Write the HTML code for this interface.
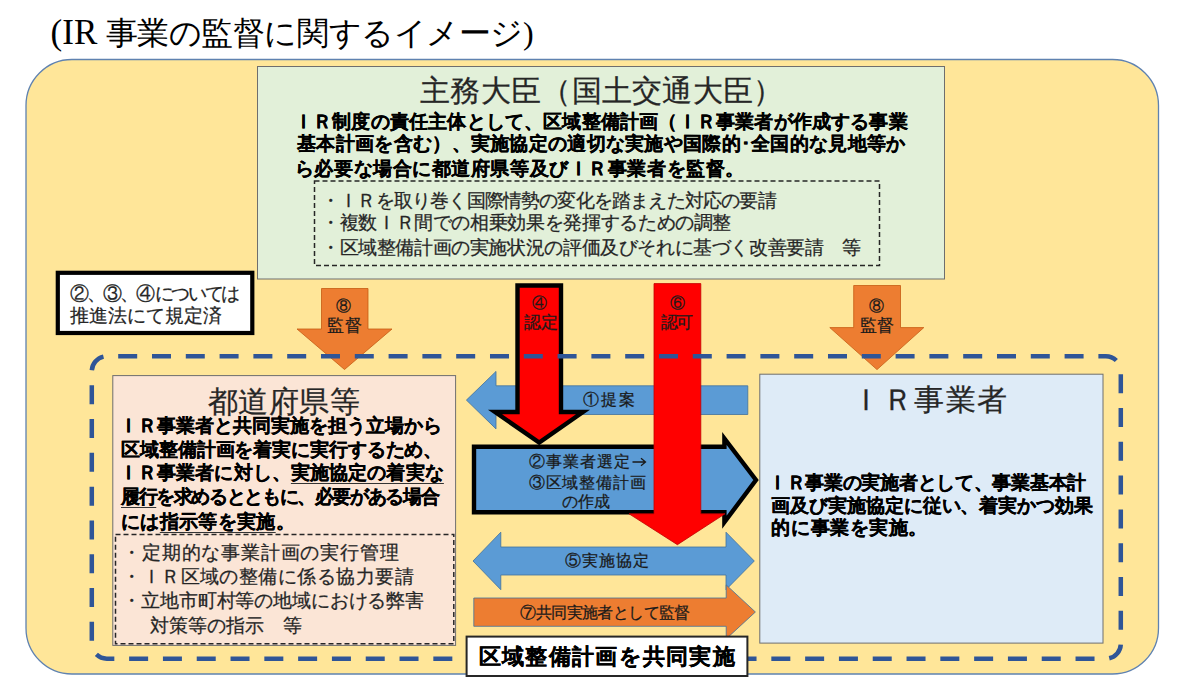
<!DOCTYPE html>
<html lang="ja">
<head>
<meta charset="utf-8">
<style>
html,body{margin:0;padding:0;background:#fff;}
body{width:1184px;height:694px;position:relative;overflow:hidden;font-family:"Liberation Sans",sans-serif;}
svg{position:absolute;left:0;top:0;}
.t svg{position:static;}
.t{position:absolute;white-space:nowrap;line-height:1;-webkit-text-stroke:0.25px currentColor;}
.u{text-decoration:underline;text-decoration-thickness:1px;text-underline-offset:4px;text-decoration-color:#333;}
</style>
</head>
<body>
<svg width="1184" height="694" viewBox="0 0 1184 694">
  <rect x="26" y="59.5" width="1132.5" height="614.5" rx="46" ry="46" fill="#FFE699" stroke="#5F82B0" stroke-width="1.3"/>
  <rect x="257.5" y="66.5" width="687" height="212.5" fill="#E2F0D9" stroke="#6E6E6E" stroke-width="1"/>
  <rect x="314.5" y="181" width="565" height="84.5" fill="none" stroke="#262626" stroke-width="1.5" stroke-dasharray="5 3"/>
  <rect x="57.8" y="272.8" width="194.5" height="60.2" fill="#fff" stroke="#000" stroke-width="4.2"/>
  <polygon points="321.5,288.5 368,288.5 368,329 392,329 344.5,369.5 297,329 321.5,329" fill="#ED7D31" stroke="#C55A11" stroke-width="0.8"/>
  <polygon points="853.7,285.5 900.5,285.5 900.5,327.6 923.8,327.6 877,369.6 829.8,327.6 853.7,327.6" fill="#ED7D31" stroke="#C55A11" stroke-width="0.8"/>
  <polygon points="747.8,385.8 747.8,414.5 496,414.5 496,428.9 466.4,400.1 496,371.4 496,385.8" fill="#5B9BD5" stroke="#41719C" stroke-width="0.8"/>
  <polygon points="474,446.7 724.4,446.7 724.4,438.5 756,480 724.4,522.2 724.4,512.2 474,512.2" fill="#5B9BD5" stroke="#000" stroke-width="4.4"/>
  <polygon points="517.5,285.5 561,285.5 561,412 583,412 539.2,442.6 495,412 517.5,412" fill="#FF0000" stroke="#000" stroke-width="4.4"/>
  <polygon points="654,283.6 700.8,283.6 700.8,513.8 725,513.8 677.4,544.7 629,513.8 654,513.8" fill="#FF0000" stroke="#C00000" stroke-width="0.8"/>
  <path d="M91.8,371.2 A15,15 0 0 1 106.8,356.2 L1105.8,356.2 A15,15 0 0 1 1120.8,371.2 L1120.8,643.7 A15,15 0 0 1 1105.8,658.7 L106.8,658.7 A15,15 0 0 1 91.8,643.7 Z" fill="none" stroke="#2F5597" stroke-width="4.5" stroke-dasharray="19 14.8" stroke-dashoffset="-1"/>
  <rect x="112.8" y="375.6" width="342.8" height="269.8" fill="#FBE5D6" stroke="#6E6E6E" stroke-width="1"/>
  <rect x="115.5" y="534.4" width="338.3" height="109.4" fill="none" stroke="#262626" stroke-width="1.5" stroke-dasharray="5 3"/>
  <rect x="759.8" y="374.2" width="343.2" height="268.9" fill="#DEEBF7" stroke="#6E6E6E" stroke-width="1"/>
  <polygon points="473,561 500.8,532.2 500.8,547 726,547 726,532.2 754.3,561 726,589.7 726,575 500.8,575 500.8,589.7" fill="#5B9BD5" stroke="#41719C" stroke-width="0.8"/>
  <polygon points="473.8,598 726.2,598 726.2,584.9 755.4,612 726.2,638.9 726.2,626.3 473.8,626.3" fill="#ED7D31" stroke="#41719C" stroke-width="0.8"/>
  <rect x="466.6" y="636.6" width="280.8" height="39.4" fill="#fff" stroke="#262626" stroke-width="2"/>
</svg>

<div class="t" id="title1" style="left:50.6px;top:14.6px;font-size:35px;letter-spacing:0.00px;color:#000;font-family:'Liberation Serif',serif;-webkit-text-stroke:0;">(IR</div>
<div class="t" id="title2" style="left:105.6px;top:17.2px;font-size:32px;letter-spacing:-0.43px;color:#000;font-family:'Liberation Serif',serif;-webkit-text-stroke:0;">事業の監督に関するイメージ)</div>
<div class="t" id="gt" style="left:420.0px;top:75.9px;font-size:29.5px;letter-spacing:0.31px;color:#262626;">主務大臣（国土交通大臣）</div>
<div class="t" id="g1" style="left:293.8px;top:111.7px;font-size:19px;letter-spacing:0.19px;color:#000;font-weight:bold;">ＩＲ制度の責任主体として、区域整備計画（ＩＲ事業者が作成する事業</div>
<div class="t" id="g2" style="left:297.2px;top:134.2px;font-size:19px;letter-spacing:0.29px;color:#000;font-weight:bold;">基本計画を含む）、実施協定の適切な実施や国際的･全国的な見地等か</div>
<div class="t" id="g3" style="left:294.8px;top:158.7px;font-size:19px;letter-spacing:0.57px;color:#000;font-weight:bold;">ら必要な場合に都道府県等及びＩＲ事業者を監督。</div>
<div class="t" id="r1" style="left:321.0px;top:192.3px;font-size:18.5px;letter-spacing:-0.81px;color:#262626;">・ＩＲを取り巻く国際情勢の変化を踏まえた対応の要請</div>
<div class="t" id="r2" style="left:321.0px;top:214.0px;font-size:18.5px;letter-spacing:-0.36px;color:#262626;">・複数ＩＲ間での相乗効果を発揮するための調整</div>
<div class="t" id="r3" style="left:321.0px;top:238.6px;font-size:18.5px;letter-spacing:-0.39px;color:#262626;">・区域整備計画の実施状況の評価及びそれに基づく改善要請　等</div>
<div class="t" id="n1" style="left:70.0px;top:284.6px;font-size:18.5px;letter-spacing:-2.42px;color:#262626;">②、③、④<span style="margin-left:2px">については</span></div>
<div class="t" id="n2" style="left:70.0px;top:306.8px;font-size:18.5px;letter-spacing:0.07px;color:#262626;">推進法にて規定済</div>
<div class="t" id="o1a" style="left:336.0px;top:297.6px;font-size:15px;letter-spacing:0.00px;color:#1a1a1a;">⑧</div>
<div class="t" id="o1b" style="left:327.0px;top:316.5px;font-size:17px;letter-spacing:0.50px;color:#1a1a1a;">監督</div>
<div class="t" id="o2a" style="left:869.0px;top:297.6px;font-size:15px;letter-spacing:0.00px;color:#1a1a1a;">⑧</div>
<div class="t" id="o2b" style="left:860.0px;top:316.5px;font-size:17px;letter-spacing:0.10px;color:#1a1a1a;">監督</div>
<div class="t" id="r4a" style="left:532.2px;top:295.2px;font-size:15px;letter-spacing:0.00px;color:#1a1a1a;">④</div>
<div class="t" id="r4b" style="left:524.0px;top:313.5px;font-size:17px;letter-spacing:-0.10px;color:#1a1a1a;">認定</div>
<div class="t" id="r6a" style="left:669.6px;top:295.2px;font-size:15px;letter-spacing:0.00px;color:#1a1a1a;">⑥</div>
<div class="t" id="r6b" style="left:661.0px;top:313.5px;font-size:17px;letter-spacing:-2.10px;color:#1a1a1a;">認可</div>
<div class="t" id="a1" style="left:582.6px;top:392.1px;font-size:16px;letter-spacing:2.00px;color:#1a1a1a;">①提案</div>
<div class="t" id="a2" style="left:528.6px;top:453.6px;font-size:16px;letter-spacing:1.08px;color:#1a1a1a;">②事業者選定<svg width="15" height="10" viewBox="0 0 15 10" style="vertical-align:0px;margin-left:1px"><path d="M0.5,5 H13 M9,1.2 L13.5,5 L9,8.8" fill="none" stroke="#1a1a1a" stroke-width="1.3"/></svg></div>
<div class="t" id="a3" style="left:528.6px;top:474.9px;font-size:16px;letter-spacing:0.92px;color:#1a1a1a;">③区域整備計画</div>
<div class="t" id="a4" style="left:562.4px;top:494.3px;font-size:16px;letter-spacing:-0.00px;color:#1a1a1a;">の作成</div>
<div class="t" id="a5" style="left:564.6px;top:553.3px;font-size:16px;letter-spacing:1.00px;color:#1a1a1a;">⑤実施協定</div>
<div class="t" id="a7" style="left:520.4px;top:605.3px;font-size:16px;letter-spacing:-0.60px;color:#1a1a1a;">⑦共同実施者として監督</div>
<div class="t" id="jb" style="left:478.8px;top:645.6px;font-size:22px;letter-spacing:1.30px;color:#000;font-weight:bold;">区域整備計画を共同実施</div>
<div class="t" id="pt" style="left:208.0px;top:386.8px;font-size:29.5px;letter-spacing:0.40px;color:#262626;">都道府県等</div>
<div class="t" id="p1" style="left:118.8px;top:415.5px;font-size:19px;letter-spacing:0.03px;color:#000;font-weight:bold;">ＩＲ事業者と共同実施を担う立場から</div>
<div class="t" id="p2" style="left:121.2px;top:439.7px;font-size:19px;letter-spacing:-0.12px;color:#000;font-weight:bold;">区域整備計画を着実に実行するため、</div>
<div class="t" id="p3" style="left:118.8px;top:462.5px;font-size:19px;letter-spacing:0.12px;color:#000;font-weight:bold;">ＩＲ事業者に対し、<span class="u">実施協定の着実な</span></div>
<div class="t" id="p4" style="left:121.0px;top:486.7px;font-size:19px;letter-spacing:-1.38px;color:#000;font-weight:bold;"><span class="u">履行</span>を求めるとともに、必要がある場合</div>
<div class="t" id="p5" style="left:121.2px;top:512.1px;font-size:19px;letter-spacing:0.31px;color:#000;font-weight:bold;">には<span class="u">指示等を実施</span>。</div>
<div class="t" id="q1" style="left:122.2px;top:544.1px;font-size:18.5px;letter-spacing:0.81px;color:#262626;">・定期的な事業計画の実行管理</div>
<div class="t" id="q2" style="left:122.2px;top:567.9px;font-size:18.5px;letter-spacing:0.46px;color:#262626;">・ＩＲ区域の整備に係る協力要請</div>
<div class="t" id="q3" style="left:122.2px;top:592.3px;font-size:18.5px;letter-spacing:-0.13px;color:#262626;">・立地市町村等の地域における弊害</div>
<div class="t" id="q4" style="left:150.4px;top:616.5px;font-size:18.5px;letter-spacing:-0.07px;color:#262626;">対策等の指示　等</div>
<div class="t" id="it" style="left:851.0px;top:384.7px;font-size:29.5px;letter-spacing:1.55px;color:#262626;">ＩＲ事業者</div>
<div class="t" id="i1" style="left:767.8px;top:473.0px;font-size:19px;letter-spacing:-0.28px;color:#000;font-weight:bold;">ＩＲ事業の実施者として、事業基本計</div>
<div class="t" id="i2" style="left:771.4px;top:496.0px;font-size:19px;letter-spacing:-0.09px;color:#000;font-weight:bold;">画及び実施協定に従い、着実かつ効果</div>
<div class="t" id="i3" style="left:771.4px;top:518.0px;font-size:19px;letter-spacing:0.57px;color:#000;font-weight:bold;">的に事業を実施。</div>
</body>
</html>
